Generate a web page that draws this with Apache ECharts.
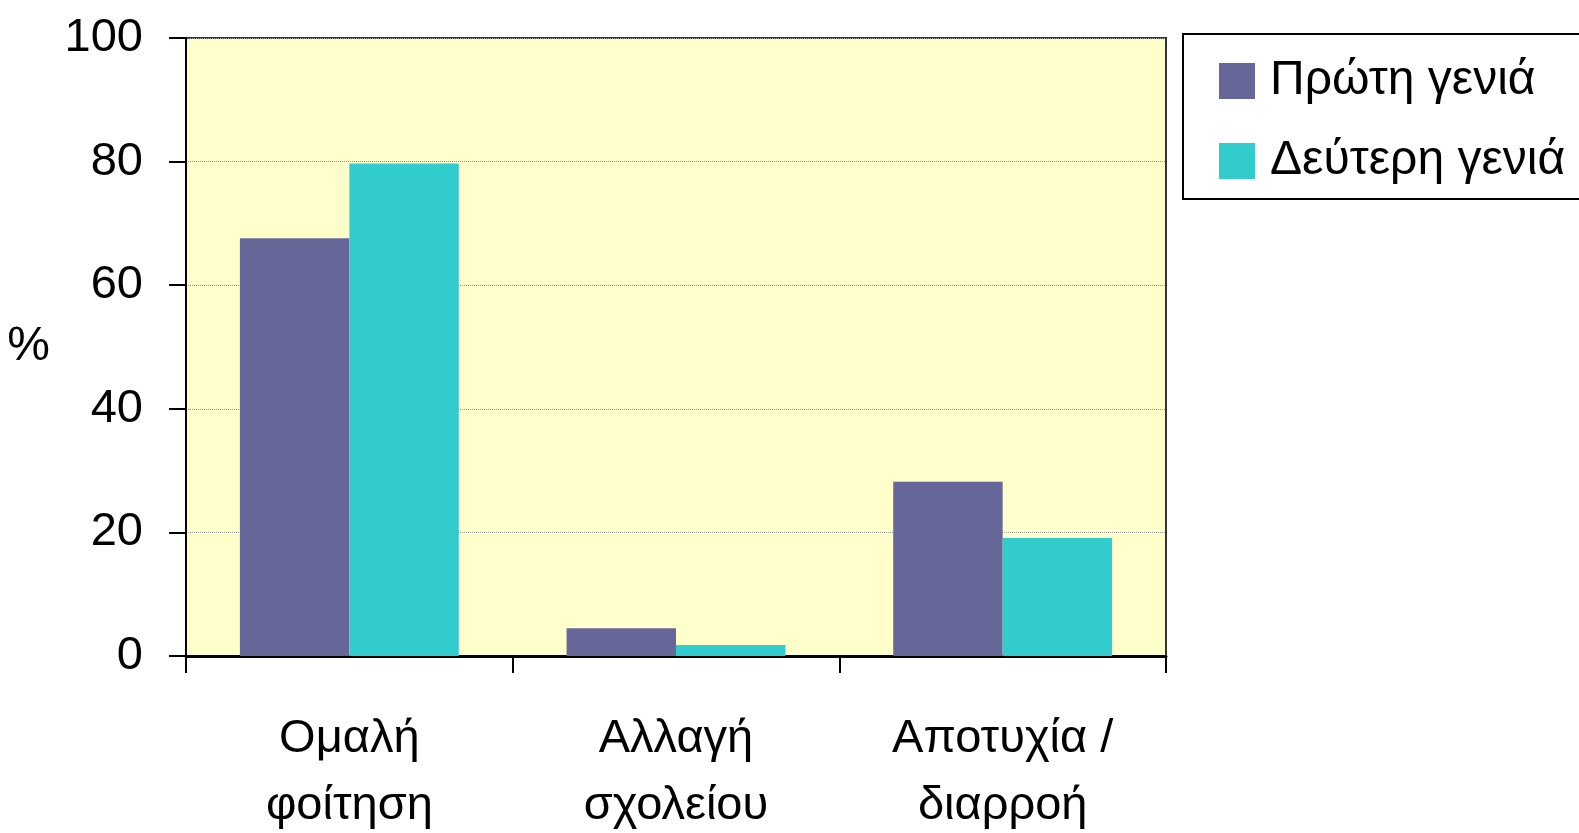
<!DOCTYPE html>
<html>
<head>
<meta charset="utf-8">
<script src="https://cdn.jsdelivr.net/npm/echarts@6/dist/echarts.min.js"></script>
<style>
  html, body { margin: 0; padding: 0; background: #fff; }
  #chart { width: 1579px; height: 833px; }
</style>
</head>
<body>
<div id="chart"></div>
<script>
// κατηγορίες και τιμές (%)
var categories = ['Ομαλή\nφοίτηση', 'Αλλαγή\nσχολείου', 'Αποτυχία /\nδιαρροή'];
var seriesNames = ['Πρώτη γενιά', 'Δεύτερη γενιά'];
var firstGen = [67.6, 4.5, 28.2];
var secondGen = [79.7, 1.8, 19.1];
var yTicks = { min: 0, max: 100, interval: 20 };

var FONT = "'Liberation Sans', Arial, sans-serif";

var chart = echarts.init(document.getElementById('chart'));
chart.setOption({
  animation: false,
  backgroundColor: '#ffffff',
  textStyle: { fontFamily: FONT, color: '#000' },
  grid: {
    left: 186, right: 413, top: 38, bottom: 177,
    outerBoundsMode: 'none',
    containLabel: false,
    show: true,
    backgroundColor: '#FFFFCC',
    borderColor: '#333',
    borderWidth: 2
  },
  legend: {
    data: seriesNames,
    orient: 'vertical',
    left: 1183,
    top: 34,
    padding: [23, 60, 14, 36],
    itemWidth: 36,
    itemHeight: 36,
    itemGap: 32,
    borderColor: '#000',
    borderWidth: 2,
    icon: 'rect',
    textStyle: { fontFamily: FONT, fontSize: 48, color: '#000', padding: [0, 0, 0, 10] }
  },
  xAxis: {
    type: 'category',
    data: categories,
    axisLine: { lineStyle: { color: '#000', width: 3 } },
    axisTick: { show: true, length: 17, lineStyle: { color: '#000', width: 2 } },
    axisLabel: { interval: 0, fontFamily: FONT, fontSize: 47, lineHeight: 67, color: '#000', margin: 50 }
  },
  yAxis: {
    type: 'value',
    min: yTicks.min,
    max: yTicks.max,
    interval: yTicks.interval,
    name: '%',
    nameLocation: 'middle',
    nameRotate: 0,
    nameGap: 136,
    nameTextStyle: { fontFamily: FONT, fontSize: 48, color: '#000' },
    axisLine: { show: true, lineStyle: { color: '#000', width: 2 } },
    axisTick: { show: true, length: 17, lineStyle: { color: '#000', width: 2 } },
    axisLabel: { fontFamily: FONT, fontSize: 47, color: '#000', margin: 43 },
    splitLine: { show: true, lineStyle: { color: '#999', width: 1, type: 'dotted' } }
  },
  series: [
    {
      name: seriesNames[0],
      type: 'bar',
      data: firstGen,
      barGap: '0%',
      barCategoryGap: '33%',
      itemStyle: { color: '#666699' }
    },
    {
      name: seriesNames[1],
      type: 'bar',
      data: secondGen,
      itemStyle: { color: '#33CCCC' }
    }
  ]
});
</script>
</body>
</html>
